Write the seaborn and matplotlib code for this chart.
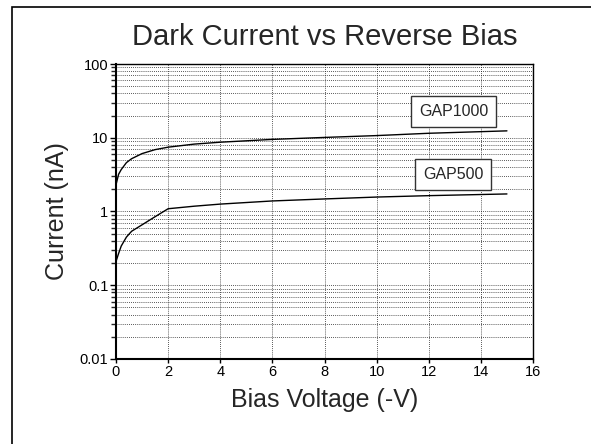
import pandas as pd
import numpy as np
import matplotlib
matplotlib.use("Agg")
import matplotlib.pyplot as plt
import matplotlib.ticker as mticker
from matplotlib.patches import Rectangle
import seaborn as sns

# values
bias_v = [0, 0.1, 0.2, 0.4, 0.6, 1.0, 1.5, 2, 3, 4, 6, 8, 10, 12, 15]
gap1000_na = [2.3, 3.2, 3.7, 4.6, 5.2, 6.1, 6.9, 7.45, 8.2, 8.7, 9.5, 10.1, 10.7, 11.5, 12.4]
gap500_na = [0.21, 0.27, 0.34, 0.45, 0.54, 0.66, 0.85, 1.09, 1.18, 1.26, 1.39, 1.48, 1.57, 1.64, 1.73]
labels = ["GAP1000", "GAP500"]
label_pos = [(12.95, 22.7), (12.93, 3.2)]

x_ticks = [0, 2, 4, 6, 8, 10, 12, 14, 16]
y_ticks = [0.01, 0.1, 1, 10, 100]
y_tick_labels = ["0.01", "0.1", "1", "10", "100"]

df = pd.DataFrame({
    "bias": bias_v + bias_v,
    "current": gap1000_na + gap500_na,
    "device": [labels[0]] * len(bias_v) + [labels[1]] * len(bias_v),
})

sns.set_style("ticks")
plt.rcParams['font.family'] = ['Liberation Sans', 'DejaVu Sans']

fig = plt.figure(figsize=(5.91, 4.44), dpi=100)
ax = fig.add_axes([116/591, 1-359/444, 417/591, 295/444])

sns.lineplot(data=df, x="bias", y="current", hue="device",
             palette={labels[0]: "black", labels[1]: "black"},
             legend=False, lw=1.0, ax=ax, sort=True)

ax.set_yscale("log")
ax.set_xlim(0, 16)
ax.set_ylim(0.01, 100)
ax.set_xticks(x_ticks)
ax.set_xticklabels([str(t) for t in x_ticks])
ax.yaxis.set_major_locator(mticker.FixedLocator(y_ticks))
ax.yaxis.set_major_formatter(mticker.FixedFormatter(y_tick_labels))
ax.yaxis.set_minor_locator(mticker.LogLocator(base=10, subs=np.arange(2, 10)))
ax.yaxis.set_minor_formatter(mticker.NullFormatter())

dots = (0, (1, 1.5))
ax.grid(True, which="major", axis="both", color="#222222", ls=dots, lw=0.6)
ax.grid(True, which="minor", axis="y", color="#222222", ls=dots, lw=0.6)

ax.tick_params(axis="y", which="major", direction="out", length=4.5, width=1, labelsize=10.5, pad=1, colors="black")
ax.tick_params(axis="y", which="minor", direction="out", length=3.5, width=1)
ax.tick_params(axis="x", which="major", direction="out", length=3, width=1, labelsize=10.5, pad=1.5, colors="black")
ax.tick_params(axis="x", which="minor", bottom=False)

for side in ["left", "bottom"]:
    ax.spines[side].set_linewidth(1.5)
for side in ["top", "right"]:
    ax.spines[side].set_linewidth(1.0)
for sp in ax.spines.values():
    sp.set_color("black")

for lab, (lx, ly) in zip(labels, label_pos):
    ax.text(lx, ly, lab, ha="center", va="center", fontsize=11.5,
            bbox=dict(boxstyle="square,pad=0.5", fc="white", ec="#333333", lw=1.0))

ax.set_title("Dark Current vs Reverse Bias", fontsize=21, pad=14)
ax.set_xlabel("Bias Voltage (-V)", fontsize=18, labelpad=6)
ax.set_ylabel("Current (nA)", fontsize=18, labelpad=8)

fig.patches.append(Rectangle((12/591, -0.2), 2, 1.2 - 7.3/444, transform=fig.transFigure,
                             fill=False, ec="black", lw=1.2))

fig.savefig("out.png", dpi=100)
